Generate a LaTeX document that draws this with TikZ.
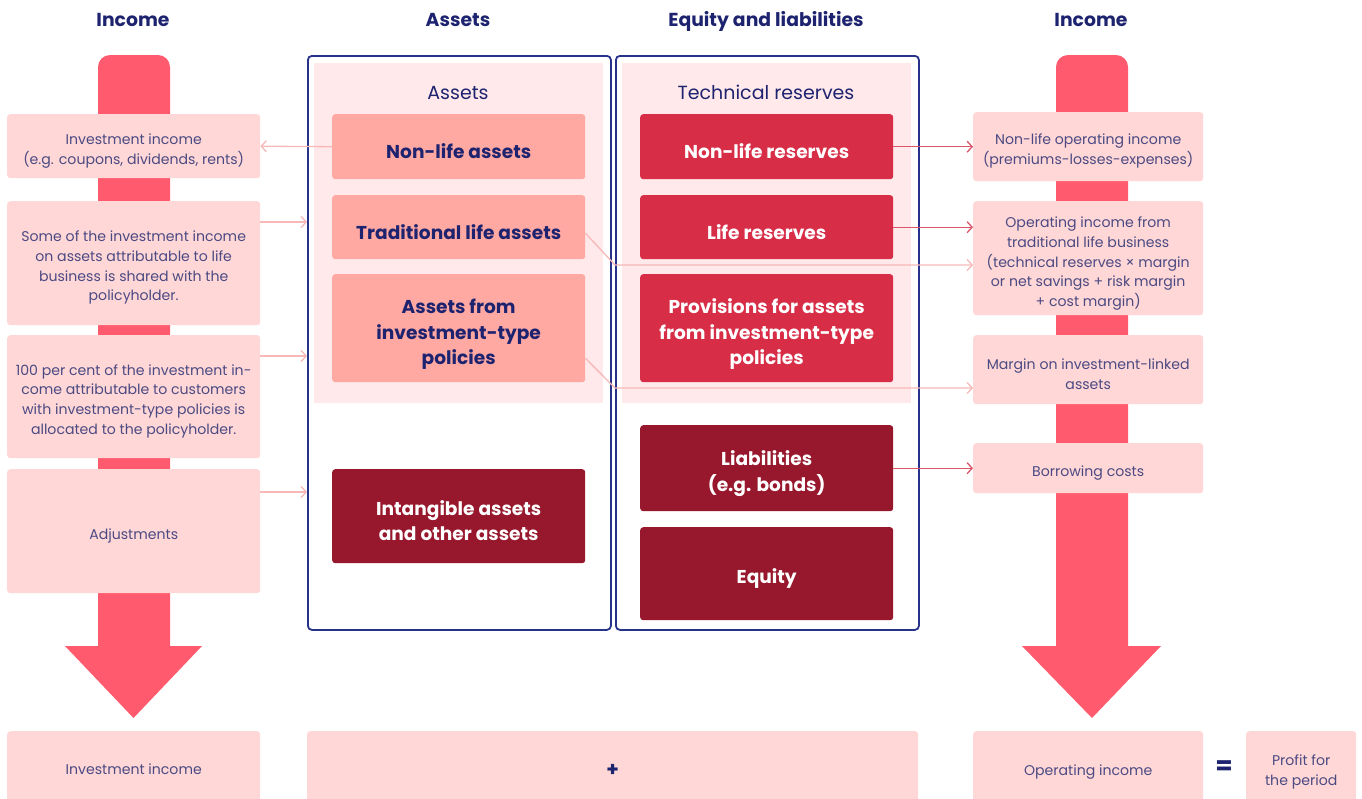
\documentclass[tikz,border=0pt]{standalone}
\usepackage{fontspec}
\setmainfont{Poppins}
\usetikzlibrary{arrows.meta}
\definecolor{navy}{HTML}{1E2370}
\definecolor{txt}{HTML}{4B4A82}
\definecolor{arrowred}{HTML}{FF5A6D}
\definecolor{lightpink}{HTML}{FFD7D7}
\definecolor{palepink}{HTML}{FFE9EA}
\definecolor{salmon}{HTML}{FFA9A2}
\definecolor{resred}{HTML}{D72D47}
\definecolor{darkred}{HTML}{97172C}
\definecolor{framecol}{HTML}{27328A}
\definecolor{linelight}{HTML}{F7B8B8}
\definecolor{linered}{HTML}{D9566A}
\begin{document}
\begin{tikzpicture}[x=1pt,y=-1pt,
  boxbase/.style={rounded corners=3pt, inner sep=0pt, anchor=north west},
  pbox/.style={boxbase, fill=lightpink},
  abox/.style={boxbase, fill=salmon},
  rbox/.style={boxbase, fill=resred},
  dbox/.style={boxbase, fill=darkred},
  ptext/.style={text=txt, font=\fontsize{14.1}{19.8}\selectfont, align=center, inner sep=0pt, yshift=-4.5pt},
  btext/.style={text=navy, font=\bfseries\fontsize{18.6}{25.5}\selectfont, align=center, inner sep=0pt, yshift=-4.5pt},
  wtext/.style={btext, text=white},
  framebox/.style={draw=framecol, line width=1.8pt, rounded corners=4pt, anchor=north west, inner sep=0pt},
  innerbg/.style={fill=palepink, anchor=north west, inner sep=0pt},
  head/.style={text=navy, font=\bfseries\fontsize{18.8}{20}\selectfont, anchor=base},
  sub/.style={text=navy, font=\fontsize{19}{20}\selectfont, anchor=base},
  lline/.style={draw=linelight, line width=1.3pt, -{Straight Barb[length=5pt,width=11pt]}},
  rline/.style={draw=linered, line width=1.3pt, -{Straight Barb[length=5pt,width=11pt]}},
  bigarrow/.style={fill=arrowred}
]
\useasboundingbox (0,0) rectangle (1362,798);

% headers
\node[head] (h1) at (133,26) {Income};
\node[head] (h2) at (458,26) {Assets};
\node[head] (h3) at (766,26) {Equity and liabilities};
\node[head] (h4) at (1091,26) {Income};

% big arrows
\fill[bigarrow, rounded corners=12pt] (98,55) rectangle (170,670);
\fill[bigarrow] (65,646) -- (202,646) -- (133.5,718) -- cycle;
\fill[bigarrow, rounded corners=12pt] (1056,55) rectangle (1128,670);
\fill[bigarrow] (1022,646) -- (1161,646) -- (1092,718) -- cycle;

% frames
\node[framebox, minimum width=303pt, minimum height=574pt] (AF) at (307,55) {};
\node[framebox, minimum width=303pt, minimum height=574pt] (EF) at (615,55) {};
\node[innerbg, minimum width=289pt, minimum height=340pt] (AI) at (314,63) {};
\node[innerbg, minimum width=289pt, minimum height=340pt] (EI) at (622,63) {};
\node[sub] (as) at (458,99) {Assets};
\node[sub] (tr) at (766,99) {Technical reserves};

% left boxes
\node[pbox, minimum width=253pt, minimum height=64pt, label={[ptext]center:{Investment income\\(e.g. coupons, dividends, rents)}}] (L1) at (7,114) {};
\node[pbox, minimum width=253pt, minimum height=124pt, label={[ptext]center:{Some of the investment income\\on assets attributable to life\\business is shared with the\\policyholder.}}] (L2) at (7,201) {};
\node[pbox, minimum width=253pt, minimum height=123pt, label={[ptext]center:{100 per cent of the investment in-\\come attributable to customers\\with investment-type policies is\\allocated to the policyholder.}}] (L3) at (7,335) {};
\node[pbox, minimum width=253pt, minimum height=124pt, label={[ptext]center:{Adjustments}}] (L4) at (7,469) {};
\node[pbox, minimum width=253pt, minimum height=72pt, label={[ptext, yshift=2.5pt]center:{Investment income}}] (LB) at (7,731) {};

% asset boxes
\node[abox, minimum width=253pt, minimum height=65pt, label={[btext]center:{Non-life assets}}] (A1) at (332,114) {};
\node[abox, minimum width=253pt, minimum height=64pt, label={[btext]center:{Traditional life assets}}] (A2) at (332,195) {};
\node[abox, minimum width=253pt, minimum height=108pt, label={[btext, yshift=-1.5pt]center:{Assets from\\investment-type\\policies}}] (A3) at (332,274) {};
\node[dbox, minimum width=253pt, minimum height=94pt, label={[wtext]center:{Intangible assets\\and other assets}}] (A4) at (332,469) {};

% equity boxes
\node[rbox, minimum width=253pt, minimum height=65pt, label={[wtext]center:{Non-life reserves}}] (E1) at (640,114) {};
\node[rbox, minimum width=253pt, minimum height=64pt, label={[wtext]center:{Life reserves}}] (E2) at (640,195) {};
\node[rbox, minimum width=253pt, minimum height=108pt, label={[wtext, yshift=-1.5pt]center:{Provisions for assets\\from investment-type\\policies}}] (E3) at (640,274) {};
\node[dbox, minimum width=253pt, minimum height=86pt, label={[wtext, yshift=-1pt]center:{Liabilities\\(e.g. bonds)}}] (E4) at (640,425) {};
\node[dbox, minimum width=253pt, minimum height=93pt, label={[wtext]center:{Equity}}] (E5) at (640,527) {};

% right boxes
\node[pbox, minimum width=230pt, minimum height=69pt, label={[ptext]center:{Non-life operating income\\(premiums-losses-expenses)}}] (R1) at (973,112) {};
\node[pbox, minimum width=230pt, minimum height=114pt, label={[ptext, yshift=-1pt]center:{Operating income from\\traditional life business\\(technical reserves × margin\\or net savings + risk margin\\+ cost margin)}}] (R2) at (973,201) {};
\node[pbox, minimum width=230pt, minimum height=69pt, label={[ptext]center:{Margin on investment-linked\\assets}}] (R3) at (973,335) {};
\node[pbox, minimum width=230pt, minimum height=50pt, label={[ptext]center:{Borrowing costs}}] (R4) at (973,443) {};
\node[pbox, minimum width=230pt, minimum height=72pt, label={[ptext]center:{Operating income}}] (RB) at (973,731) {};
\node[pbox, minimum width=110pt, minimum height=72pt, label={[ptext]center:{Profit for\\the period}}] (PB) at (1246,731) {};

% bottom middle
\node[pbox, minimum width=611pt, minimum height=72pt, label={[btext, font=\bfseries\fontsize{20}{20}\selectfont, yshift=1pt]center:{+}}] (MB) at (307,731) {};
\node[text=navy, font=\bfseries\fontsize{25}{25}\selectfont] (eq) at (1224,768) {=};

% left connectors
\draw[lline] (A1.west) -- (L1.east);
\coordinate (l2o) at ([yshift=-21pt]L2.north east);
\draw[lline] (l2o) -- (l2o -| AF.west);
\coordinate (l3o) at ([yshift=-21pt]L3.north east);
\draw[lline] (l3o) -- (l3o -| AF.west);
\coordinate (l4o) at ([yshift=-23pt]L4.north east);
\draw[lline] (l4o) -- (l4o -| AF.west);

% right connectors
\draw[rline] (E1.east) -- (E1.east -| R1.west);
\draw[rline] (E2.east) -- (E2.east -| R2.west);
\draw[rline] (E4.east) -- (E4.east -| R4.west);
\coordinate (a2o) at ([yshift=-6pt]A2.east);
\coordinate (k1) at (615,265);
\draw[lline] (a2o) -- (k1) -- (k1 -| R2.west);
\coordinate (a3o) at ([yshift=-30pt]A3.east);
\coordinate (k2) at (615,388);
\draw[lline] (a3o) -- (k2) -- (k2 -| R3.west);
\end{tikzpicture}
\end{document}
